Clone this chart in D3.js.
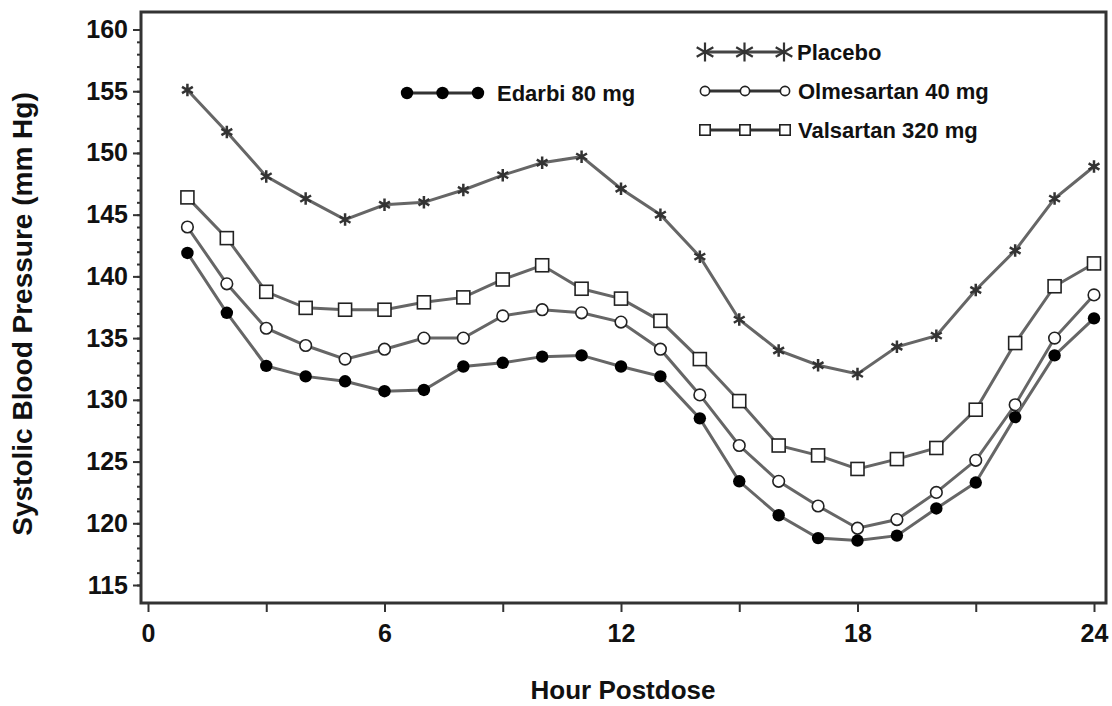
<!DOCTYPE html>
<html>
<head>
<meta charset="utf-8">
<script src="https://cdn.jsdelivr.net/npm/d3@7"></script>
<style>
  html, body { margin: 0; padding: 0; background: #fff; }
  text { font-family: "Liberation Sans", Arial, sans-serif; font-weight: bold; fill: #111; }
</style>
</head>
<body>
<svg id="chart"></svg>
<script>
// values
const hours = [1, 2, 3, 4, 5, 6, 7, 8, 9, 10, 11, 12, 13, 14, 15, 16, 17, 18, 19, 20, 21, 22, 23, 24];
const placebo = [155.1, 151.7, 148.1, 146.3, 144.6, 145.8, 146.0, 147.0, 148.2, 149.2, 149.7, 147.1,
  145.0, 141.6, 136.5, 134.0, 132.8, 132.1, 134.3, 135.2, 138.9, 142.1, 146.3, 148.9];
const valsartan = [146.4, 143.1, 138.75, 137.45, 137.3, 137.3, 137.9, 138.3, 139.75, 140.9, 139.0, 138.2,
  136.4, 133.3, 129.9, 126.3, 125.5, 124.4, 125.2, 126.1, 129.2, 134.6, 139.2, 141.05];
const olmesartan = [144.0, 139.4, 135.8, 134.4, 133.3, 134.1, 135.0, 135.0, 136.8, 137.3, 137.05, 136.3,
  134.1, 130.4, 126.3, 123.4, 121.4, 119.6, 120.3, 122.5, 125.1, 129.6, 135.0, 138.5];
const edarbi = [141.9, 137.05, 132.75, 131.9, 131.5, 130.7, 130.8, 132.7, 133.0, 133.5, 133.6, 132.7,
  131.9, 128.5, 123.4, 120.65, 118.8, 118.6, 119.0, 121.2, 123.3, 128.6, 133.6, 136.6];

const xTicks = [0, 3, 6, 9, 12, 15, 18, 21, 24];
const xTickLabels = [0, 6, 12, 18, 24];
const yTicks = [115, 120, 125, 130, 135, 140, 145, 150, 155, 160];
const seriesNames = ['Edarbi 80 mg', 'Placebo', 'Olmesartan 40 mg', 'Valsartan 320 mg'];

class BPChart {

  constructor(_config) {
    this.config = {
      parentElement: _config.parentElement,
      containerWidth: _config.containerWidth || 1112,
      containerHeight: _config.containerHeight || 706,
      frame: { left: 141, top: 12, right: 1106, bottom: 603 }
    }
    this.initVis();
  }

  initVis() {
    let vis = this;
    const f = vis.config.frame;

    vis.svg = d3.select(vis.config.parentElement)
      .attr('width', vis.config.containerWidth)
      .attr('height', vis.config.containerHeight);

    vis.xScale = d3.scaleLinear().domain([0, 24]).range([148, 1094]);
    vis.yScale = d3.scaleLinear().domain([115, 160]).range([585, 29.5]);

    // frame box
    vis.svg.append('rect')
      .attr('x', f.left).attr('y', f.top)
      .attr('width', f.right - f.left).attr('height', f.bottom - f.top)
      .attr('fill', 'none').attr('stroke', '#333').attr('stroke-width', 3);

    // y axis: minor + major ticks
    const yMinor = d3.axisLeft(vis.yScale)
      .tickValues(d3.range(115, 161, 1)).tickSize(4).tickFormat('');
    const yMajor = d3.axisLeft(vis.yScale)
      .tickValues(yTicks).tickSize(8).tickPadding(5).tickFormat(d3.format('d'));

    vis.svg.append('g').attr('transform', `translate(${f.left},0)`).call(yMinor)
      .call(g => g.select('.domain').remove())
      .call(g => g.selectAll('line').attr('stroke', '#333').attr('stroke-width', 2));
    vis.svg.append('g').attr('transform', `translate(${f.left},0)`).call(yMajor)
      .call(g => g.select('.domain').remove())
      .call(g => g.selectAll('line').attr('stroke', '#333').attr('stroke-width', 2))
      .call(g => g.selectAll('text').attr('font-size', 25).attr('fill', '#111'));

    // x axis
    const xAxis = d3.axisBottom(vis.xScale)
      .tickValues(xTicks).tickSize(9).tickPadding(12)
      .tickFormat(d => xTickLabels.includes(d) ? d : '');
    vis.svg.append('g').attr('transform', `translate(0,${f.bottom})`).call(xAxis)
      .call(g => g.select('.domain').remove())
      .call(g => g.selectAll('line').attr('stroke', '#333').attr('stroke-width', 2))
      .call(g => g.selectAll('text').attr('font-size', 25).attr('fill', '#111'));

    // axis titles
    vis.svg.append('text')
      .attr('transform', 'translate(32,314) rotate(-90)')
      .attr('text-anchor', 'middle')
      .attr('font-size', 28)
      .text('Systolic Blood Pressure (mm Hg)');
    vis.svg.append('text')
      .attr('x', 623).attr('y', 699)
      .attr('text-anchor', 'middle')
      .attr('font-size', 26)
      .text('Hour Postdose');

    vis.updateVis();
  }

  updateVis() {
    let vis = this;
    vis.series = [
      { name: seriesNames[1], values: placebo, marker: 'star' },
      { name: seriesNames[3], values: valsartan, marker: 'square' },
      { name: seriesNames[2], values: olmesartan, marker: 'open' },
      { name: seriesNames[0], values: edarbi, marker: 'dot' }
    ];
    vis.line = d3.line()
      .x((d, i) => vis.xScale(hours[i]))
      .y(d => vis.yScale(d));
    vis.renderVis();
  }

  drawMarker(sel, type, legend) {
    const k = legend ? 0.8 : 1;
    if (type === 'star') {
      sel.append('path')
        .attr('d', d3.symbol(d3.symbolAsterisk, legend ? 260 : 110)())
        .attr('fill', 'none').attr('stroke', '#333').attr('stroke-width', legend ? 2.2 : 2.5);
    } else if (type === 'square') {
      sel.append('rect')
        .attr('x', -6.5 * k).attr('y', -6.5 * k).attr('width', 13 * k).attr('height', 13 * k)
        .attr('fill', '#fff').attr('stroke', '#222').attr('stroke-width', 1.6);
    } else if (type === 'open') {
      sel.append('circle').attr('r', 5.8 * k)
        .attr('fill', '#fff').attr('stroke', '#222').attr('stroke-width', 1.6);
    } else {
      sel.append('circle').attr('r', 6.2).attr('fill', '#000');
    }
  }

  renderVis() {
    let vis = this;

    vis.series.forEach(s => {
      vis.svg.append('path')
        .datum(s.values)
        .attr('fill', 'none')
        .attr('stroke', '#666')
        .attr('stroke-width', 3)
        .attr('d', vis.line);

      vis.svg.append('g').selectAll('g')
        .data(s.values)
        .join('g')
        .attr('transform', (d, i) => `translate(${vis.xScale(hours[i])},${vis.yScale(d)})`)
        .each(function() { vis.drawMarker(d3.select(this), s.marker, false); });
    });

    // legend
    const legend = [
      { name: seriesNames[0], marker: 'dot', x: 407, y: 93, step: 35.5 },
      { name: seriesNames[1], marker: 'star', x: 705, y: 52, step: 39.5 },
      { name: seriesNames[2], marker: 'open', x: 705, y: 91, step: 40 },
      { name: seriesNames[3], marker: 'square', x: 705, y: 130, step: 40 }
    ];
    legend.forEach(l => {
      const g = vis.svg.append('g').attr('transform', `translate(${l.x},${l.y})`);
      g.append('line').attr('x1', 0).attr('x2', l.step * 2)
        .attr('stroke', l.marker === 'star' ? '#444' : '#333').attr('stroke-width', 3);
      [0, 1, 2].forEach(k => {
        const m = g.append('g').attr('transform', `translate(${k * l.step},0)`);
        vis.drawMarker(m, l.marker, true);
      });
      g.append('text')
        .attr('x', l.step * 2 + (l.marker === 'dot' ? 19 : 13))
        .attr('y', 8)
        .attr('font-size', 22)
        .text(l.name);
    });
  }
}

new BPChart({ parentElement: '#chart', containerWidth: 1112, containerHeight: 706 });
</script>
</body>
</html>
